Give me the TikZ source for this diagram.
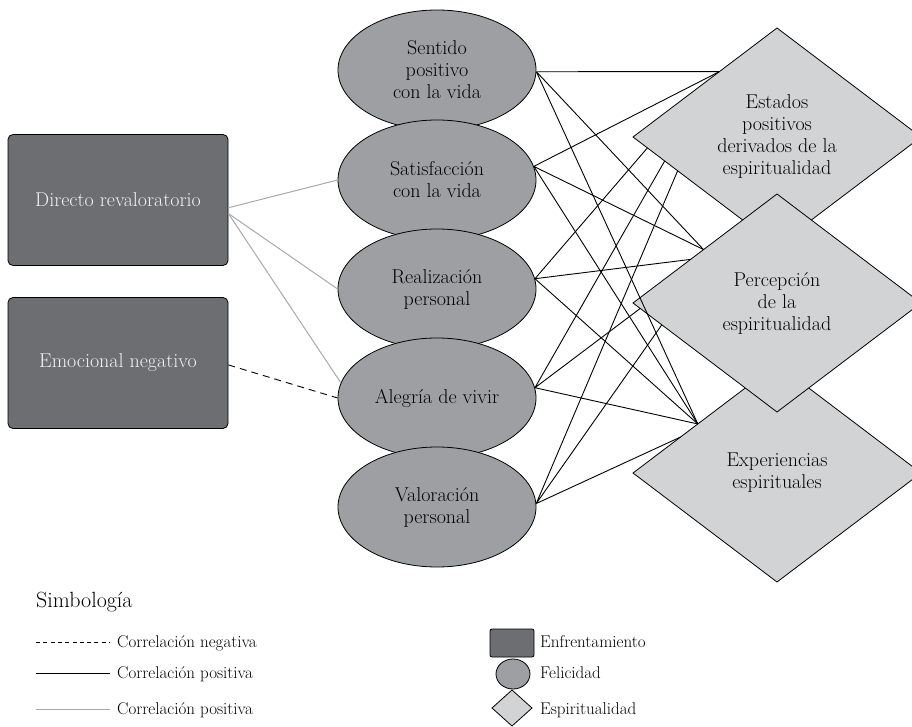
\documentclass[tikz,border=0pt]{standalone}
\usepackage{fontspec}
\usepackage{tikz}
\usetikzlibrary{calc,shapes.geometric}

\definecolor{enfre}{HTML}{6D6E71}
\definecolor{feli}{HTML}{9D9FA2}
\definecolor{espi}{HTML}{D1D3D4}
\definecolor{lineagris}{HTML}{A7A9AC}

\tikzset{
 enfrenta/.style={draw=black, fill=enfre, rounded corners=5pt, line width=0.8pt,
  minimum width=220pt, minimum height=131pt, text=white!95!black,
  font=\fontsize{20}{22}\selectfont},
 felicidad/.style={ellipse, draw=black, fill=feli, line width=0.8pt, inner sep=0pt,
  minimum width=198pt, minimum height=120pt, align=center,
  font=\fontsize{20}{22}\selectfont},
 espiritu/.style={diamond, draw=black, fill=espi, line width=0.8pt, inner sep=0pt,
  outer sep=0pt, shape aspect=1.35, minimum width=288pt, minimum height=218pt,
  align=center, font=\fontsize{20}{22}\selectfont},
 corr/.style={line width=0.9pt},
 corrgris/.style={lineagris, line width=1pt},
 corrneg/.style={dash pattern=on 7pt off 5pt, line width=0.9pt},
 leyenda/.style={font=\fontsize{17}{19}\selectfont, inner sep=0pt, anchor=base west}
}

\begin{document}
\begin{tikzpicture}[x=1pt,y=-1pt]
\useasboundingbox (0,0) rectangle (912,727);

% enfrentamiento
\node[enfrenta] (dir) at (118,200) {Directo revaloratorio};
\node[enfrenta] (emo) at (118,363) {Emocional negativo};

% felicidad
\node[felicidad] (sen) at (437,70) {Sentido\\positivo\\con la vida};
\node[felicidad] (sat) at (437,180) {Satisfacción\\con la vida};
\node[felicidad] (rea) at (437,289) {Realización\\personal};
\node[felicidad] (ale) at (437,398) {Alegría de vivir};
\node[felicidad] (val) at (437,507) {Valoración\\personal};

% espiritualidad
\node[espiritu] (est) at (777,137) {Estados\\positivos\\derivados de la\\espiritualidad};
\node[espiritu] (exp) at (777,473) {Experiencias\\espirituales};
\node[espiritu] (per) at (777,303) {Percepción\\de la\\espiritualidad};

\coordinate (e1) at ($(est.west)!0.60!(est.north)$);
\coordinate (e2) at ($(est.west)!0.10!(est.south)$);
\coordinate (e3) at ($(est.west)!0.22!(est.south)$);
\coordinate (e4) at ($(est.west)!0.31!(est.south)$);
\coordinate (p1) at ($(per.west)!0.49!(per.north)$);
\coordinate (p2) at ($(per.west)!0.40!(per.north)$);
\coordinate (p3) at ($(per.west)!0.05!(per.south)$);
\coordinate (p4) at ($(per.west)!0.20!(per.south)$);
\coordinate (x1) at ($(exp.west)!0.45!(exp.north)$);
\coordinate (x2) at ($(exp.west)!0.33!(exp.north)$);

\draw[corrgris] (dir.-4) -- (sat.west);
\draw[corrgris] (dir.-7) -- (rea.west);
\draw[corrgris] (dir.-7) -- (ale.171);
\draw[corrneg] (emo.-1) -- (ale.west);

\draw[corr] (sen.-1) -- (e1) (sen.-1) -- (p1) (sen.-1) -- (x1);
\draw[corr] (sat.8) -- (e1) (sat.8) -- (p1) (sat.8) -- (x1);
\draw[corr] (rea.6) -- (e2) (rea.6) -- (p2) (rea.6) -- (x1);
\draw[corr] (ale.6) -- (e3) (ale.6) -- (p3) (ale.6) -- (x1);
\draw[corr] (val.2) -- (e4) (val.2) -- (p4) (val.2) -- (x2);

% simbologia
\node[font=\fontsize{22}{24}\selectfont, inner sep=0pt, anchor=base west] (simb) at (36,607) {Simbología};

\node[leyenda] (lneg) at (117,647) {Correlación negativa};
\node[leyenda] (lpos) at (117,678) {Correlación positiva};
\node[leyenda] (lgris) at (117,714) {Correlación positiva};
\draw[corrneg, dash pattern=on 4pt off 3.3pt] (36,642) -- (110,642);
\draw[corr] (36,673) -- (110,673);
\draw[corrgris] (36,709) -- (110,709);

\node[enfrenta, minimum width=44pt, minimum height=28pt, rounded corners=2pt] (senf) at (512,643) {};
\node[felicidad, minimum width=34pt, minimum height=30pt] (sfel) at (513,674) {};
\node[espiritu, minimum width=40pt, minimum height=36pt] (sesp) at (512,708) {};
\node[leyenda] (tenf) at (540,647) {Enfrentamiento};
\node[leyenda] (tfel) at (540,678) {Felicidad};
\node[leyenda] (tesp) at (540,714) {Espiritualidad};
\end{tikzpicture}
\end{document}
